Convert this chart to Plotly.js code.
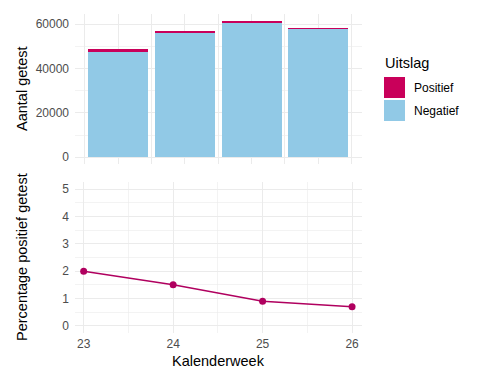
<!DOCTYPE html>
<html><head><meta charset="utf-8">
<script src="https://cdn.plot.ly/plotly-3.0.1.min.js"></script>
<style>html,body{margin:0;padding:0;background:#fff}#c{width:480px;height:384px}</style>
</head><body><div id="c"></div>
<script>
const weeks = [23, 24, 25, 26];
const negatief = [47550, 56050, 60700, 57750];
const positief = [1150, 950, 800, 450];
const percentage = [2.0, 1.5, 0.9, 0.7];
const legendLabels = ['Positief', 'Negatief'];

const colPos = '#C9005A', colNeg = '#91C9E6', colLine = '#B0005F';
const grid = '#EBEBEB', tickCol = '#4D4D4D';
const fnt = 'Liberation Sans, Arial, sans-serif';

const traces = [
  {type:'bar', x:weeks, y:negatief, name:'Negatief', marker:{color:colNeg, line:{width:0}}, width:0.9, xaxis:'x', yaxis:'y', showlegend:false, hoverinfo:'none'},
  {type:'bar', x:weeks, y:positief, name:'Positief', marker:{color:colPos, line:{width:0}}, width:0.9, xaxis:'x', yaxis:'y', showlegend:false, hoverinfo:'none'},
  {type:'scatter', mode:'lines+markers', x:weeks, y:percentage, line:{color:colLine, width:1.5}, marker:{color:colLine, size:7}, xaxis:'x2', yaxis:'y2', showlegend:false, hoverinfo:'none'}
];

const dx0 = 75/480, dx1 = 362/480;
const layout = {
  width:480, height:384, margin:{l:0,r:0,t:0,b:0}, paper_bgcolor:'#fff', plot_bgcolor:'#fff',
  barmode:'stack', bargap:0,
  font:{family:fnt, size:12, color:tickCol},
  xaxis:{domain:[dx0,dx1], anchor:'y', range:[22.355,26.655], tick0:22.5, dtick:0.5, showticklabels:false, showgrid:true, gridcolor:grid, gridwidth:1, zeroline:false, showline:false, ticks:'', fixedrange:true},
  yaxis:{domain:[1-164/384, 1-14/384], anchor:'x', range:[-3075,64575], tickvals:[0,20000,40000,60000], ticktext:['0','20000','40000','60000'], showgrid:true, gridcolor:grid, gridwidth:1, zeroline:false, showline:false, ticks:'', ticklabelstandoff:5,
    minor:{tickvals:[10000,30000,50000], showgrid:true, gridcolor:grid, gridwidth:0.6}, tickfont:{size:12, color:tickCol}},
  xaxis2:{domain:[dx0,dx1], anchor:'y2', range:[22.903,26.111], tickvals:weeks, ticktext:weeks.map(String), showgrid:true, gridcolor:grid, gridwidth:1, zeroline:false, showline:false, ticks:'', ticklabelstandoff:2,
    minor:{tickvals:[23.5,24.5,25.5], showgrid:true, gridcolor:grid, gridwidth:0.6}, tickfont:{size:12, color:tickCol}},
  yaxis2:{domain:[1-333/384, 1-182/384], anchor:'x2', range:[-0.26,5.26], tickvals:[0,1,2,3,4,5], showgrid:true, gridcolor:grid, gridwidth:1, zeroline:false, showline:false, ticks:'', ticklabelstandoff:5,
    minor:{tickvals:[0.5,1.5,2.5,3.5,4.5], showgrid:true, gridcolor:grid, gridwidth:0.6}, tickfont:{size:12, color:tickCol}},
  annotations:[
    {text:'Aantal getest', xref:'paper', yref:'paper', x:22/480, y:1-89/384, textangle:-90, showarrow:false, font:{family:fnt, size:14.5, color:'#000'}, xanchor:'center', yanchor:'middle'},
    {text:'Percentage positief getest', xref:'paper', yref:'paper', x:22/480, y:1-257/384, textangle:-90, showarrow:false, font:{family:fnt, size:14.5, color:'#000'}, xanchor:'center', yanchor:'middle'},
    {text:'Kalenderweek', xref:'paper', yref:'paper', x:218.5/480, y:1-361/384, showarrow:false, font:{family:fnt, size:14.5, color:'#000'}, xanchor:'center', yanchor:'middle'},
    {text:'Uitslag', xref:'paper', yref:'paper', x:383/480, y:1-63/384, showarrow:false, font:{family:fnt, size:14.5, color:'#000'}, xanchor:'left', yanchor:'middle'},
    {text:legendLabels[0], xref:'paper', yref:'paper', x:412/480, y:1-87.5/384, showarrow:false, font:{family:fnt, size:12, color:'#000'}, xanchor:'left', yanchor:'middle'},
    {text:legendLabels[1], xref:'paper', yref:'paper', x:412/480, y:1-110.5/384, showarrow:false, font:{family:fnt, size:12, color:'#000'}, xanchor:'left', yanchor:'middle'}
  ],
  shapes:[
    {type:'rect', xref:'paper', yref:'paper', x0:384/480, x1:405/480, y0:1-98/384, y1:1-77/384, fillcolor:colPos, line:{width:0}},
    {type:'rect', xref:'paper', yref:'paper', x0:384/480, x1:405/480, y0:1-121/384, y1:1-100/384, fillcolor:colNeg, line:{width:0}}
  ]
};
Plotly.newPlot('c', traces, layout, {staticPlot:true, displayModeBar:false});
</script></body></html>
